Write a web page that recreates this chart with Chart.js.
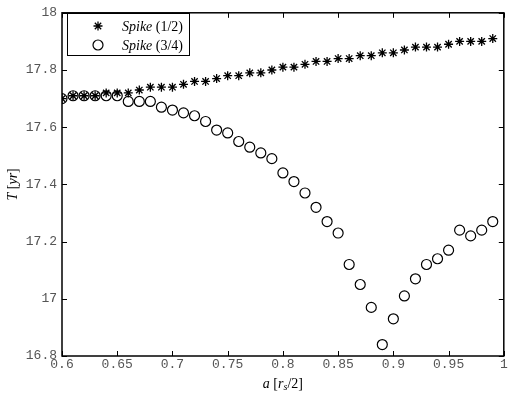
<!DOCTYPE html>
<html><head><meta charset="utf-8">
<script src="https://cdn.jsdelivr.net/npm/chart.js@4/dist/chart.umd.min.js"></script>
<style>html,body{margin:0;padding:0;background:#fff;}#wrap{width:510px;height:399px;}</style>
</head><body><div id="wrap"><canvas id="c" width="510" height="399"></canvas></div>
<script>
const aValues = [0.60,0.61,0.62,0.63,0.64,0.65,0.66,0.67,0.68,0.69,0.70,0.71,0.72,0.73,0.74,0.75,0.76,0.77,0.78,0.79,0.80,0.81,0.82,0.83,0.84,0.85,0.86,0.87,0.88,0.89,0.90,0.91,0.92,0.93,0.94,0.95,0.96,0.97,0.98,0.99];
const spikeHalf = [17.70,17.71,17.71,17.71,17.72,17.72,17.72,17.73,17.74,17.74,17.74,17.75,17.76,17.76,17.77,17.78,17.78,17.79,17.79,17.80,17.81,17.81,17.82,17.83,17.83,17.84,17.84,17.85,17.85,17.86,17.86,17.87,17.88,17.88,17.88,17.89,17.90,17.90,17.90,17.91];
const spikeThreeQuarter = [17.70,17.71,17.71,17.71,17.71,17.71,17.69,17.69,17.69,17.67,17.66,17.65,17.64,17.62,17.59,17.58,17.55,17.53,17.51,17.49,17.44,17.41,17.37,17.32,17.27,17.23,17.12,17.05,16.97,16.84,16.93,17.01,17.07,17.12,17.14,17.17,17.24,17.22,17.24,17.27];
const xTicks = [0.6,0.65,0.7,0.75,0.8,0.85,0.9,0.95,1];
const yTicks = [16.8,17,17.2,17.4,17.6,17.8,18];
const seriesNames = ['(1/2)','(3/4)'];

const fmt = v => String(Number(v.toFixed(2)));

function drawRich(ctx, parts, x, y) {
  let cx = x;
  for (const p of parts) {
    ctx.font = p.font;
    ctx.fillText(p.t, cx, y + (p.dy || 0));
    cx += ctx.measureText(p.t).width;
  }
}
function richWidth(ctx, parts) {
  let w = 0;
  for (const p of parts) { ctx.font = p.font; w += ctx.measureText(p.t).width; }
  return w;
}

const decor = {
  id: 'decor',
  afterDraw(chart) {
    const ctx = chart.ctx, a = chart.chartArea;
    const xs = chart.scales.x, ys = chart.scales.y;
    ctx.save();
    ctx.strokeStyle = '#000';
    ctx.lineWidth = 1;
    ctx.beginPath();
    for (const t of xTicks) {
      const px = Math.round(xs.getPixelForValue(t)) + 0.5;
      ctx.moveTo(px, a.bottom); ctx.lineTo(px, a.bottom - 5);
      ctx.moveTo(px, a.top); ctx.lineTo(px, a.top + 5);
    }
    for (const t of yTicks) {
      const py = Math.round(ys.getPixelForValue(t)) + 0.5;
      ctx.moveTo(a.left, py); ctx.lineTo(a.left + 5, py);
      ctx.moveTo(a.right, py); ctx.lineTo(a.right - 5, py);
    }
    ctx.stroke();
    ctx.lineWidth = 1.5;
    ctx.strokeRect(a.left, a.top, a.right - a.left, a.bottom - a.top);

    // legend
    const bx = 67, by = 13, bw = 122, bh = 42;
    ctx.fillStyle = '#fff';
    ctx.fillRect(bx, by, bw, bh);
    ctx.lineWidth = 1;
    ctx.strokeRect(bx + 0.5, by + 0.5, bw, bh);
    const ds = chart.data.datasets;
    const rows = [by + 13, by + 32];
    ctx.textBaseline = 'middle';
    ctx.textAlign = 'left';
    for (let i = 0; i < 2; i++) {
      const d = ds[i];
      ctx.strokeStyle = '#000';
      ctx.fillStyle = d.pointBackgroundColor;
      ctx.lineWidth = d.pointBorderWidth;
      Chart.helpers.drawPoint(ctx, {pointStyle: d.pointStyle, radius: d.pointRadius, borderWidth: d.pointBorderWidth, rotation: 0}, 98, rows[i]);
      ctx.fillStyle = '#000';
      drawRich(ctx, [
        {t: 'Spike', font: 'italic 14px "Liberation Serif"'},
        {t: ' ' + seriesNames[i], font: '14px "Liberation Serif"'}
      ], 122, rows[i] + 1);
    }

    // x title
    const xParts = [
      {t: 'a', font: 'italic 14px "Liberation Serif"'},
      {t: ' [', font: '14px "Liberation Serif"'},
      {t: 'r', font: 'italic 14px "Liberation Serif"'},
      {t: 's', font: 'italic 10px "Liberation Serif"', dy: 3},
      {t: '/2]', font: '14px "Liberation Serif"'}
    ];
    const xw = richWidth(ctx, xParts);
    drawRich(ctx, xParts, (a.left + a.right) / 2 - xw / 2, 384);

    // y title
    const yParts = [
      {t: 'T', font: 'italic 14px "Liberation Serif"'},
      {t: ' [', font: '14px "Liberation Serif"'},
      {t: 'yr', font: 'italic 14px "Liberation Serif"'},
      {t: ']', font: '14px "Liberation Serif"'}
    ];
    const yw = richWidth(ctx, yParts);
    ctx.translate(13, (a.top + a.bottom) / 2);
    ctx.rotate(-Math.PI / 2);
    drawRich(ctx, yParts, -yw / 2, 0);
    ctx.restore();
  }
};

new Chart(document.getElementById('c'), {
  type: 'scatter',
  data: {
    datasets: [
      {
        label: 'Spike (1/2)',
        data: aValues.map((x, i) => ({x, y: spikeHalf[i]})),
        pointStyle: 'star',
        pointRadius: 4.5,
        pointBorderWidth: 1.3,
        borderColor: '#000',
        pointBorderColor: '#000',
        pointBackgroundColor: '#000',
        showLine: false
      },
      {
        label: 'Spike (3/4)',
        data: aValues.map((x, i) => ({x, y: spikeThreeQuarter[i]})),
        pointStyle: 'circle',
        pointRadius: 5,
        pointBorderWidth: 1.2,
        borderColor: '#000',
        pointBorderColor: '#000',
        pointBackgroundColor: 'rgba(0,0,0,0)',
        showLine: false
      }
    ]
  },
  options: {
    responsive: false,
    animation: false,
    events: [],
    layout: {padding: {left: 0, top: 7, right: 5, bottom: 0}},
    plugins: {legend: {display: false}, tooltip: {enabled: false}},
    scales: {
      x: {
        type: 'linear', min: 0.6, max: 1,
        afterBuildTicks: s => { s.ticks = xTicks.map(v => ({value: v})); },
        afterFit: s => { s.height = 43; },
        grid: {display: false, drawTicks: false},
        border: {display: false},
        ticks: {
          padding: 1, autoSkip: false, maxRotation: 0,
          color: '#555',
          font: {family: '"Liberation Mono"', size: 13},
          callback: v => fmt(v)
        }
      },
      y: {
        type: 'linear', min: 16.8, max: 18,
        afterBuildTicks: s => { s.ticks = yTicks.map(v => ({value: v})); },
        afterFit: s => { s.width = 62; },
        grid: {display: false, drawTicks: false},
        border: {display: false},
        ticks: {
          padding: 5, autoSkip: false,
          color: '#555',
          font: {family: '"Liberation Mono"', size: 13},
          callback: v => fmt(v)
        }
      }
    }
  },
  plugins: [decor]
});
</script>
</body></html>
